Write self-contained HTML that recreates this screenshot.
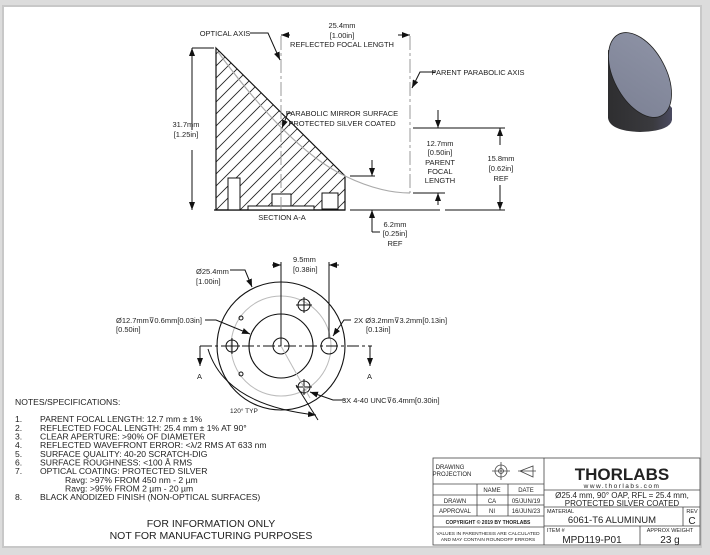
<!DOCTYPE html>
<html><head><meta charset="utf-8"><style>
html,body{margin:0;padding:0;background:#d8d8d8;}
svg{display:block;font-family:"Liberation Sans",sans-serif;}
</style></head><body>
<svg width="710" height="555" viewBox="0 0 710 555" xmlns="http://www.w3.org/2000/svg">
<defs>
<clipPath id="cp"><path d="M216,48 L345,176 L345,210 L216,210 Z"/></clipPath>
<marker id="a" markerWidth="8" markerHeight="6" refX="8" refY="3" orient="auto" markerUnits="userSpaceOnUse"><path d="M0,0 L8,3 L0,6z" fill="#111"/></marker>
<linearGradient id="g" x1="0" y1="0" x2="1" y2="1"><stop offset="0" stop-color="#8e93a6"/><stop offset="1" stop-color="#7c8194"/></linearGradient>
<linearGradient id="b" x1="0" y1="0" x2="1" y2="0"><stop offset="0" stop-color="#2e2e30"/><stop offset="0.7" stop-color="#3a3a3e"/><stop offset="1" stop-color="#4a4a60"/></linearGradient>
</defs>
<rect x="0" y="0" width="710" height="555" fill="#dcdcdc"/>
<rect x="3" y="6" width="698" height="541" fill="#fff"/>
<rect x="3" y="6" width="698" height="541" fill="none" stroke="#c8c8c8" stroke-width="2"/>

<!-- section A-A -->
<g clip-path="url(#cp)" stroke="#222" stroke-width="0.8">
<line x1="60" y1="210" x2="222" y2="48"/><line x1="72" y1="210" x2="234" y2="48"/><line x1="84" y1="210" x2="246" y2="48"/><line x1="96" y1="210" x2="258" y2="48"/><line x1="108" y1="210" x2="270" y2="48"/><line x1="120" y1="210" x2="282" y2="48"/><line x1="132" y1="210" x2="294" y2="48"/><line x1="144" y1="210" x2="306" y2="48"/><line x1="156" y1="210" x2="318" y2="48"/><line x1="168" y1="210" x2="330" y2="48"/><line x1="180" y1="210" x2="342" y2="48"/><line x1="192" y1="210" x2="354" y2="48"/><line x1="204" y1="210" x2="366" y2="48"/><line x1="216" y1="210" x2="378" y2="48"/><line x1="228" y1="210" x2="390" y2="48"/><line x1="240" y1="210" x2="402" y2="48"/><line x1="252" y1="210" x2="414" y2="48"/><line x1="264" y1="210" x2="426" y2="48"/><line x1="276" y1="210" x2="438" y2="48"/><line x1="288" y1="210" x2="450" y2="48"/><line x1="300" y1="210" x2="462" y2="48"/><line x1="312" y1="210" x2="474" y2="48"/><line x1="324" y1="210" x2="486" y2="48"/><line x1="336" y1="210" x2="498" y2="48"/>
</g>
<path d="M216,48 L345,176 L345,210 L216,210 Z" fill="none" stroke="#111" stroke-width="1.2"/>
<rect x="228" y="178" width="12" height="32" fill="#fff" stroke="#111"/>
<rect x="272" y="194" width="19" height="14" fill="#fff" stroke="#111"/>
<rect x="322" y="193" width="16" height="16" fill="#fff" stroke="#111"/>
<rect x="248" y="206" width="66" height="4" fill="#fff" stroke="#111"/>
<path d="M218,52 Q290,150 345,176 Q380,193 410,193" fill="none" stroke="#aaa" stroke-width="1.2"/>
<line x1="281" y1="36" x2="281" y2="212" stroke="#999" stroke-dasharray="14,3,3,3"/>
<line x1="410" y1="36" x2="410" y2="193" stroke="#999" stroke-dasharray="14,3,3,3"/>
<line x1="214" y1="210" x2="345" y2="210" stroke="#111" stroke-width="1.2"/>
<line x1="350" y1="210" x2="440" y2="210" stroke="#111"/><line x1="445" y1="210" x2="505" y2="210" stroke="#111"/>
<g font-size="7.5" fill="#222" text-anchor="middle">
<line x1="290" y1="35" x2="281" y2="35" stroke="#111" marker-end="url(#a)"/>
<line x1="398" y1="35" x2="410" y2="35" stroke="#111" marker-end="url(#a)"/>
<text x="342" y="28">25.4mm</text><text x="342" y="38">[1.00in]</text>
<text x="342" y="47">REFLECTED FOCAL LENGTH</text>
<text x="225" y="36">OPTICAL AXIS</text>
<polyline points="250,33 268,33 280,60" fill="none" stroke="#111" marker-end="url(#a)"/>
<text x="478" y="75">PARENT PARABOLIC AXIS</text>
<polyline points="435,72 420,72 412,88" fill="none" stroke="#111" marker-end="url(#a)"/>
<text x="342" y="116">PARABOLIC MIRROR SURFACE</text><text x="342" y="126">PROTECTED SILVER COATED</text>
<polyline points="292,113 288,113 282,128" fill="none" stroke="#111" marker-end="url(#a)"/>
<line x1="192" y1="48" x2="214" y2="48" stroke="#111"/>
<line x1="192" y1="130" x2="192" y2="48" stroke="#111" marker-end="url(#a)"/>
<line x1="192" y1="150" x2="192" y2="210" stroke="#111" marker-end="url(#a)"/>
<text x="186" y="127">31.7mm</text><text x="186" y="137">[1.25in]</text>
<line x1="413" y1="128" x2="505" y2="128" stroke="#111"/>
<line x1="413" y1="193" x2="445" y2="193" stroke="#111"/>
<line x1="438" y1="110" x2="438" y2="128" stroke="#111" marker-end="url(#a)"/>
<line x1="438" y1="205" x2="438" y2="193" stroke="#111" marker-end="url(#a)"/>
<line x1="500" y1="145" x2="500" y2="128" stroke="#111" marker-end="url(#a)"/>
<line x1="500" y1="185" x2="500" y2="210" stroke="#111" marker-end="url(#a)"/>
<text x="440" y="146">12.7mm</text><text x="440" y="155">[0.50in]</text>
<text x="440" y="165">PARENT</text><text x="440" y="174">FOCAL</text><text x="440" y="183">LENGTH</text>
<text x="501" y="161">15.8mm</text><text x="501" y="171">[0.62in]</text><text x="501" y="181">REF</text>
<line x1="350" y1="176" x2="375" y2="176" stroke="#111"/>
<line x1="372" y1="160" x2="372" y2="176" stroke="#111" marker-end="url(#a)"/>
<polyline points="372,232 372,210" fill="none" stroke="#111" marker-end="url(#a)"/>
<line x1="372" y1="232" x2="380" y2="232" stroke="#111"/>
<text x="395" y="227">6.2mm</text><text x="395" y="236">[0.25in]</text><text x="395" y="246">REF</text>
<text x="282" y="220">SECTION A-A</text>
</g>

<!-- top view -->
<g fill="none" stroke="#111">
<circle cx="281" cy="346" r="64" stroke-width="1.1"/>
<circle cx="281" cy="346" r="50" stroke="#bbb"/>
<circle cx="281" cy="346" r="32" stroke-width="1.1"/>
<circle cx="281" cy="346" r="8"/>
<circle cx="232" cy="346" r="6"/><path d="M224,346h16M232,338v16"/>
<circle cx="329" cy="346" r="8"/>
<circle cx="304" cy="305" r="6"/><path d="M296,305h16M304,297v16"/>
<circle cx="304" cy="387" r="6"/><path d="M296,387h16M304,379v16"/>
<circle cx="241" cy="318" r="2"/><circle cx="241" cy="374" r="2"/>
<line x1="200" y1="346" x2="372" y2="346" stroke-dasharray="12,3,3,3"/>
<line x1="281" y1="346" x2="310" y2="398" stroke="#bbb"/>
<line x1="281" y1="262" x2="281" y2="346"/>
<line x1="329" y1="262" x2="329" y2="338"/>
<line x1="200" y1="346" x2="200" y2="366" marker-end="url(#a)"/>
<line x1="370" y1="346" x2="370" y2="366" marker-end="url(#a)"/>
<line x1="272" y1="265" x2="281" y2="265" marker-end="url(#a)"/>
<line x1="339" y1="265" x2="329" y2="265" marker-end="url(#a)"/>
<polyline points="230,270 245,270 252,287" marker-end="url(#a)"/>
<polyline points="205,320 216,320 250,334" marker-end="url(#a)"/>
<polyline points="351,320 344,320 333,336" marker-end="url(#a)"/>
<polyline points="345,400 333,400 310,392" marker-end="url(#a)"/>
<path d="M208,349 Q225,405 316,415" marker-end="url(#a)"/>
<line x1="296" y1="385" x2="318" y2="420"/>
</g>
<g font-size="7.5" fill="#222">
<text x="196" y="274">Ø25.4mm</text><text x="196" y="284">[1.00in]</text>
<text x="293" y="262">9.5mm</text><text x="293" y="272">[0.38in]</text>
<text x="116" y="323">Ø12.7mm⊽0.6mm[0.03in]</text><text x="116" y="332">[0.50in]</text>
<text x="354" y="323">2X Ø3.2mm⊽3.2mm[0.13in]</text><text x="366" y="332">[0.13in]</text>
<text x="197" y="379">A</text><text x="367" y="379">A</text>
<text x="342" y="403">3X 4-40 UNC⊽6.4mm[0.30in]</text>
<text x="230" y="413" font-size="6.5">120° TYP</text>
</g>

<!-- notes -->
<g font-size="8.6" fill="#222">
<text x="15" y="405">NOTES/SPECIFICATIONS:</text>
<text x="15" y="422">1.</text><text x="40" y="422">PARENT FOCAL LENGTH: 12.7 mm ± 1%</text>
<text x="15" y="431">2.</text><text x="40" y="431">REFLECTED FOCAL LENGTH: 25.4 mm ± 1% AT 90°</text>
<text x="15" y="439.5">3.</text><text x="40" y="439.5">CLEAR APERTURE: &gt;90% OF DIAMETER</text>
<text x="15" y="448">4.</text><text x="40" y="448">REFLECTED WAVEFRONT ERROR: &lt;λ/2 RMS AT 633 nm</text>
<text x="15" y="457">5.</text><text x="40" y="457">SURFACE QUALITY: 40-20 SCRATCH-DIG</text>
<text x="15" y="465.5">6.</text><text x="40" y="465.5">SURFACE ROUGHNESS: &lt;100 Å RMS</text>
<text x="15" y="474">7.</text><text x="40" y="474">OPTICAL COATING: PROTECTED SILVER</text>
<text x="65" y="483">Ravg: &gt;97% FROM 450 nm - 2 µm</text>
<text x="65" y="491.5">Ravg: &gt;95% FROM 2 µm - 20 µm</text>
<text x="15" y="500">8.</text><text x="40" y="500">BLACK ANODIZED FINISH (NON-OPTICAL SURFACES)</text>
<text x="211" y="527" font-size="10.5" text-anchor="middle">FOR INFORMATION ONLY</text>
<text x="211" y="539" font-size="10.5" text-anchor="middle">NOT FOR MANUFACTURING PURPOSES</text>
</g>

<!-- 3D image -->
<path d="M608,50 L608,118 Q610,131 640,132 Q670,131 672,120 L672,108 L630,60 Z" fill="url(#b)"/>
<ellipse cx="640" cy="75" rx="46" ry="26" transform="rotate(62 640 75)" fill="url(#g)" stroke="#222" stroke-width="0.8"/>

<!-- title block -->
<g fill="none" stroke="#444" stroke-width="0.8">
<rect x="433" y="458" width="267" height="87"/>
<line x1="544" y1="458" x2="544" y2="545"/>
<line x1="433" y1="484" x2="544" y2="484"/>
<line x1="433" y1="495" x2="544" y2="495"/>
<line x1="433" y1="505" x2="544" y2="505"/>
<line x1="433" y1="516" x2="544" y2="516"/>
<line x1="433" y1="527" x2="544" y2="527"/>
<line x1="477" y1="484" x2="477" y2="516"/>
<line x1="508" y1="484" x2="508" y2="516"/>
<line x1="544" y1="490" x2="700" y2="490"/>
<line x1="544" y1="507" x2="700" y2="507"/>
<line x1="544" y1="526" x2="700" y2="526"/>
<line x1="683" y1="507" x2="683" y2="526"/>
<line x1="640" y1="526" x2="640" y2="545"/>
<circle cx="501" cy="471" r="6"/><circle cx="501" cy="471" r="2.5"/><path d="M492,471h18M501,462v18"/>
<path d="M520,471 L533,466 L533,477 Z M518,471h18"/>
</g>
<g fill="#222" font-size="6" text-anchor="middle">
<text x="450" y="469">DRAWING</text><text x="452" y="476">PROJECTION</text>
<text x="492" y="492">NAME</text><text x="526" y="492">DATE</text>
<text x="455" y="503">DRAWN</text><text x="492" y="503">CA</text><text x="526" y="503">05/JUN/19</text>
<text x="455" y="513">APPROVAL</text><text x="492" y="513">NI</text><text x="526" y="513">16/JUN/23</text>
<text x="488" y="524" font-size="5" font-weight="bold">COPYRIGHT © 2019 BY THORLABS</text>
<text x="488" y="535" font-size="4.8">VALUES IN PARENTHESIS ARE CALCULATED</text>
<text x="488" y="541" font-size="4.8">AND MAY CONTAIN ROUNDOFF ERRORS</text>
<text x="622" y="480" font-size="17" font-weight="bold">THORLABS</text>
<text x="622" y="488" font-size="6.5" letter-spacing="1.5">www.thorlabs.com</text>
<text x="622" y="498" font-size="8">Ø25.4 mm, 90° OAP, RFL = 25.4 mm,</text>
<text x="622" y="506" font-size="8">PROTECTED SILVER COATED</text>
<text x="547" y="513" font-size="5.5" text-anchor="start">MATERIAL</text>
<text x="612" y="523" font-size="9.5">6061-T6 ALUMINUM</text>
<text x="692" y="513" font-size="5.5">REV</text>
<text x="692" y="524" font-size="10">C</text>
<text x="547" y="532" font-size="5.5" text-anchor="start">ITEM #</text>
<text x="592" y="543" font-size="10">MPD119-P01</text>
<text x="670" y="532" font-size="5.5">APPROX WEIGHT</text>
<text x="670" y="543" font-size="10">23 g</text>
</g>
</svg>
</body></html>
